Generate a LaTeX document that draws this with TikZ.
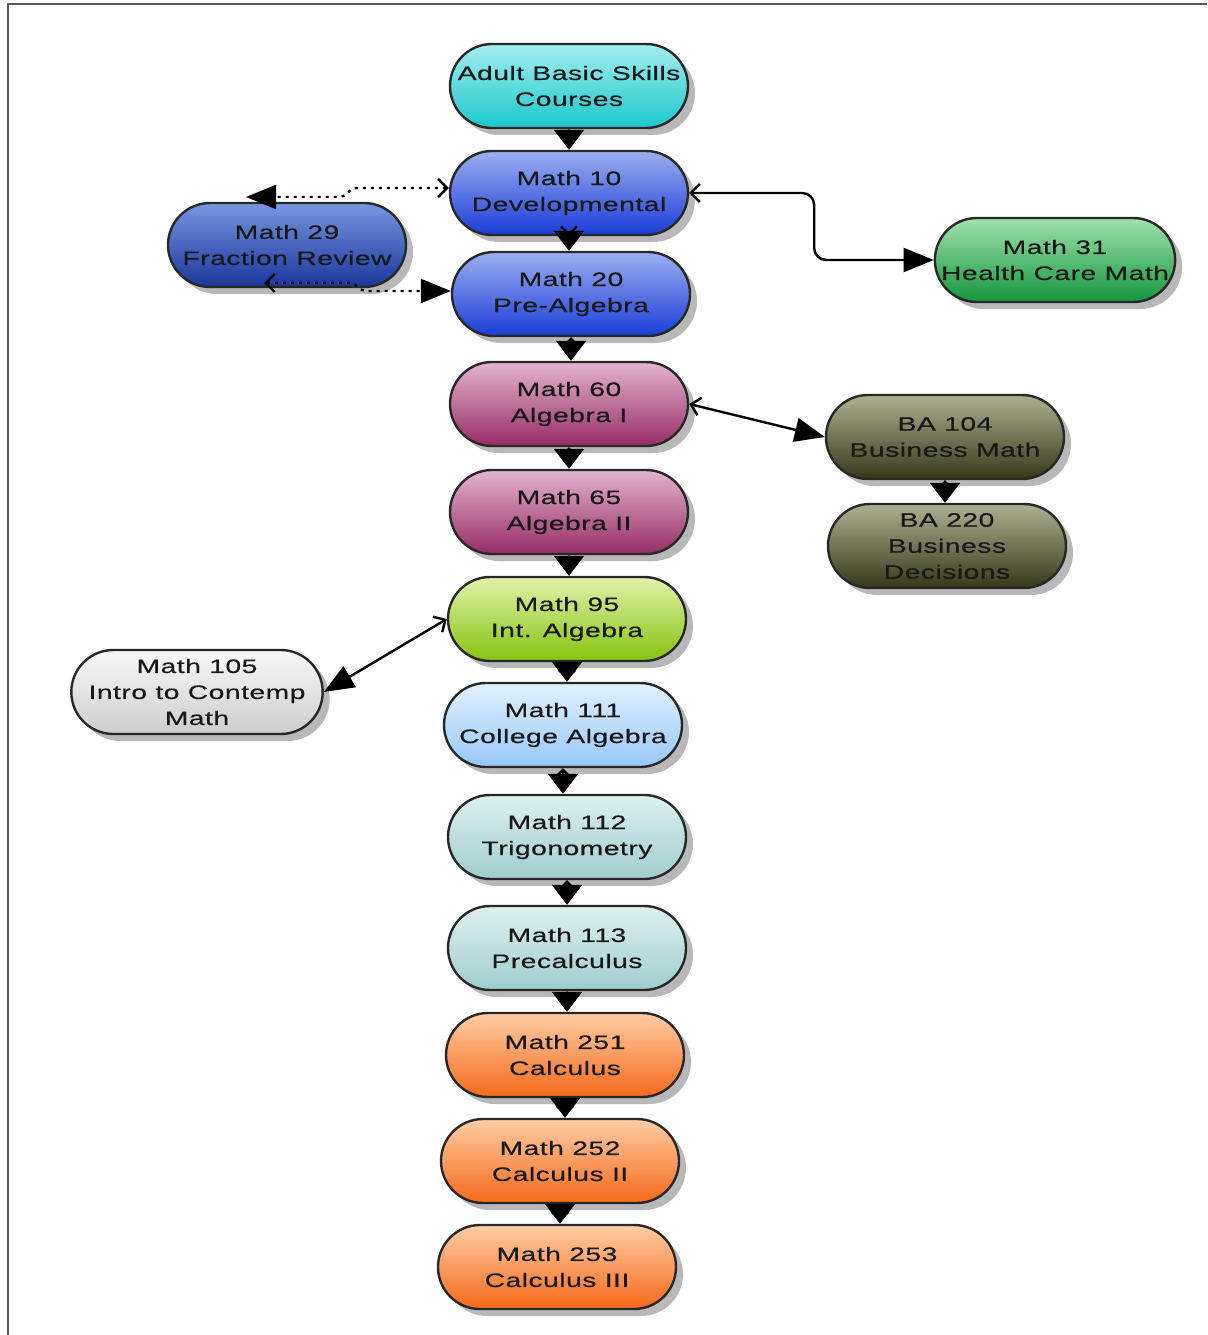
\documentclass[tikz,border=0pt]{standalone}
\usepackage{fontspec}
\newfontfamily\nodefont{Liberation Sans}[FakeStretch=1.45,LetterSpace=2.5,FakeBold=0.5]
\usetikzlibrary{arrows.meta,shapes.misc,shadows}
\definecolor{txt}{RGB}{25,25,25}
\begin{document}
\begin{tikzpicture}[x=1pt,y=-1pt,
  course/.style={rounded rectangle, draw={rgb,255:red,40;green,40;blue,40}, line width=2.4pt,
    minimum width=240pt, minimum height=84pt, inner sep=1pt, align=center, text=txt,
    font=\nodefont\fontsize{19.5}{26}\selectfont,
    general shadow={fill=black!28, shadow xshift=7pt, shadow yshift=-7pt}},
  cyanc/.style={course, top color={rgb,255:red,165;green,238;blue,238}, bottom color={rgb,255:red,25;green,200;blue,205}},
  bluec/.style={course, top color={rgb,255:red,155;green,175;blue,240}, bottom color={rgb,255:red,25;green,60;blue,215}},
  dbluec/.style={course, top color={rgb,255:red,120;green,150;blue,225}, bottom color={rgb,255:red,25;green,55;blue,155}},
  greenc/.style={course, top color={rgb,255:red,160;green,225;blue,175}, bottom color={rgb,255:red,20;green,150;blue,60}},
  pinkc/.style={course, top color={rgb,255:red,228;green,180;blue,205}, bottom color={rgb,255:red,150;green,45;blue,100}},
  olivec/.style={course, top color={rgb,255:red,175;green,175;blue,145}, bottom color={rgb,255:red,55;green,55;blue,25}},
  limec/.style={course, top color={rgb,255:red,225;green,242;blue,170}, bottom color={rgb,255:red,135;green,195;blue,15}},
  greyc/.style={course, top color={rgb,255:red,248;green,248;blue,248}, bottom color={rgb,255:red,205;green,205;blue,205}},
  ltbluec/.style={course, top color={rgb,255:red,225;green,240;blue,255}, bottom color={rgb,255:red,150;green,200;blue,250}},
  tealc/.style={course, top color={rgb,255:red,222;green,240;blue,240}, bottom color={rgb,255:red,160;green,205;blue,205}},
  orangec/.style={course, top color={rgb,255:red,255;green,205;blue,165}, bottom color={rgb,255:red,245;green,105;blue,25}},
  conn/.style={line width=2.4pt, {Straight Barb[length=9pt,width=18pt]}-{Triangle[length=30pt,width=24pt]}},
  vconn/.style={line width=2.4pt, {Straight Barb[length=8pt,width=16pt]}-{Triangle[length=20pt,width=30pt]}},
  dconn/.style={conn, dash pattern=on 3pt off 5pt}
]
\useasboundingbox (0,0) rectangle (1207,1335);
\draw[black!65, line width=2pt] (8,1335) -- (8,4) -- (1207,4);

\node[cyanc]   (adult) at (569,86)   {Adult Basic Skills\\Courses};
\node[bluec]   (m10)   at (569,193)  {Math 10\\Developmental};
\node[dbluec]  (m29)   at (287,245)  {Math 29\\Fraction Review};
\node[bluec]   (m20)   at (571,294)  {Math 20\\Pre-Algebra};
\node[greenc]  (m31)   at (1055,260) {Math 31\\Health Care Math};
\node[pinkc]   (m60)   at (569,404)  {Math 60\\Algebra I};
\node[olivec]  (ba104) at (945,437)  {BA 104\\Business Math};
\node[olivec]  (ba220) at (947,546)  {BA 220\\Business\\Decisions};
\node[pinkc]   (m65)   at (569,512)  {Math 65\\Algebra II};
\node[limec]   (m95)   at (567,619)  {Math 95\\Int. Algebra};
\node[greyc]   (m105)  at (197,692)  {Math 105\\Intro to Contemp\\Math};
\node[ltbluec] (m111)  at (563,725)  {Math 111\\College Algebra};
\node[tealc]   (m112)  at (567,837)  {Math 112\\Trigonometry};
\node[tealc]   (m113)  at (567,948)  {Math 113\\Precalculus};
\node[orangec] (m251)  at (565,1055) {Math 251\\Calculus};
\node[orangec] (m252)  at (560,1161) {Math 252\\Calculus II};
\node[orangec] (m253)  at (557,1267) {Math 253\\Calculus III};

\coordinate (t29a) at (246,197);
\coordinate (t29b) at (264,283);

\draw[vconn] (adult.south) -- (adult.south |- m10.north);
\draw[vconn] (m10.south) -- (m10.south |- m20.north);
\draw[vconn] (m20.south) -- (m20.south |- m60.north);
\draw[vconn] (m60.south) -- (m60.south |- m65.north);
\draw[vconn] (m65.south) -- (m65.south |- m95.north);
\draw[vconn] (m95.south) -- (m95.south |- m111.north);
\draw[vconn] (m111.south) -- (m111.south |- m112.north);
\draw[vconn] (m112.south) -- (m112.south |- m113.north);
\draw[vconn] (m113.south) -- (m113.south |- m251.north);
\draw[vconn] (m251.south) -- (m251.south |- m252.north);
\draw[vconn] (m252.south) -- (m252.south |- m253.north);
\draw[vconn] (ba104.south) -- (ba104.south |- ba220.north);

\draw[conn, rounded corners=12pt] (m10.east) -- ++(125,0) |- (m31.west);
\draw[conn] (m60.east) -- (ba104.west);
\draw[conn] (m95.west) -- (m105.east);
\draw[dconn] ([yshift=5pt]m10.west) -- (356,188) to[out=180,in=0] (340,197) -- (t29a);
\draw[dconn] (t29b) -- (350,283) to[out=0,in=180] (366,291) -- ([yshift=3pt]m20.west);
\end{tikzpicture}
\end{document}
